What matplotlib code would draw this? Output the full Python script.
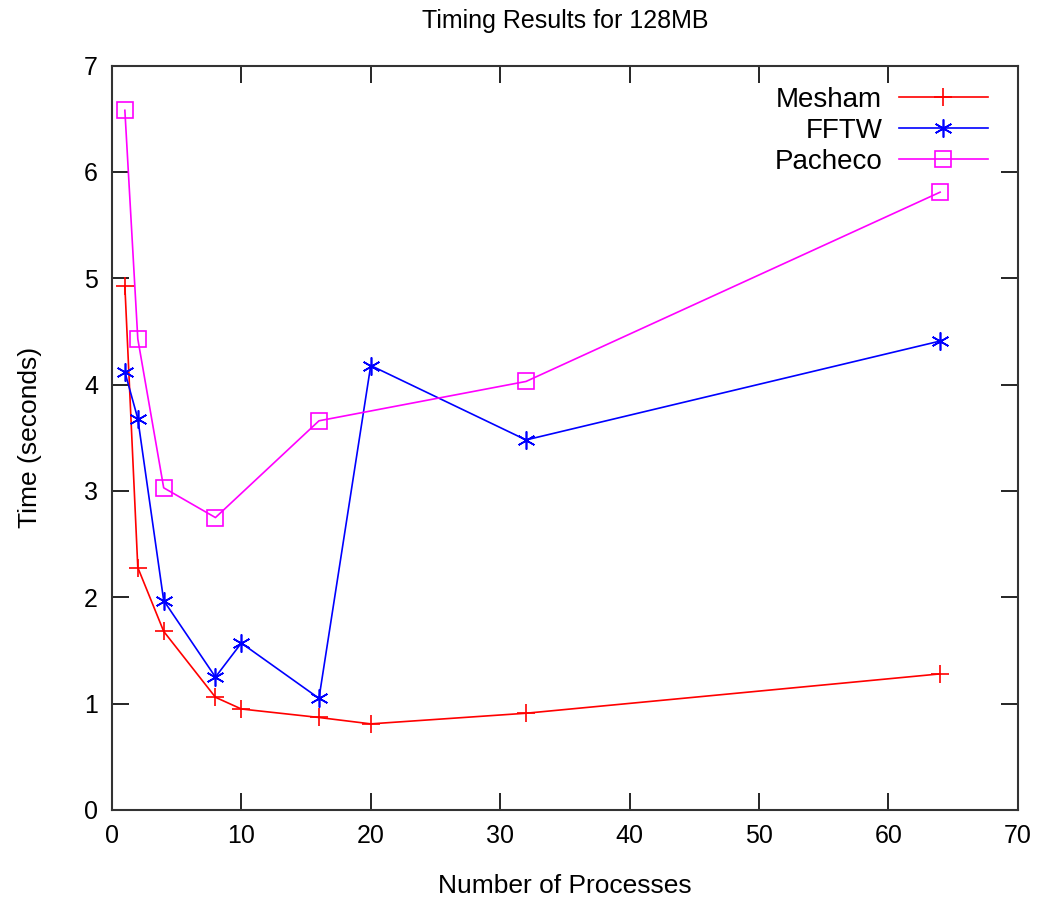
import matplotlib
matplotlib.use('Agg')
import matplotlib.pyplot as plt

plt.rcParams['font.family'] = ['Liberation Sans', 'DejaVu Sans']

# Dados
procs = [1, 2, 4, 8, 10, 16, 20, 32, 64]
mesham = [4.93, 2.28, 1.68, 1.06, 0.95, 0.87, 0.81, 0.91, 1.28]
fftw = [4.12, 3.68, 1.97, 1.25, 1.57, 1.05, 4.18, 3.48, 4.41]
procs_pacheco = [1, 2, 4, 8, 16, 32, 64]
pacheco = [6.58, 4.43, 3.03, 2.75, 3.66, 4.03, 5.81]

fig = plt.figure(figsize=(10.46, 8.99), dpi=100)
ax = fig.add_axes([0.107, 0.099, 0.866, 0.828])

ax.plot(procs, mesham, color='red', marker='+', markersize=13, markeredgewidth=1.2,
        linewidth=1.2, label='Mesham')
ax.plot(procs, fftw, color='blue', marker=(6, 2, 0), markersize=13, markeredgewidth=1.2,
        linewidth=1.2, label='FFTW')
ax.plot(procs_pacheco, pacheco, color='magenta', marker='s', markersize=12,
        markerfacecolor='none', markeredgewidth=1.2, linewidth=1.2, label='Pacheco')

ax.set_xlim(0, 70)
ax.set_ylim(0, 7)
ax.set_xticks(range(0, 71, 10))
ax.set_yticks(range(0, 8))
ax.tick_params(direction='in', length=12, width=1.2, top=True, right=True,
               labelsize=18, pad=10, colors='black')
for s in ax.spines.values():
    s.set_linewidth(1.5)
    s.set_color('#333333')

ax.set_xlabel('Number of Processes', fontsize=19, labelpad=19)
ax.set_ylabel('Time (seconds)', fontsize=19, labelpad=30)
ax.set_title('Timing Results for 128MB', fontsize=18, pad=27)

ax.legend(loc='upper right', bbox_to_anchor=(0.967, 0.971), frameon=False,
          markerfirst=False, fontsize=20, handlelength=3.2, handletextpad=0.6,
          labelspacing=0.18, borderaxespad=0, borderpad=0)

plt.savefig('out.png', dpi=100)
plt.close(fig)
